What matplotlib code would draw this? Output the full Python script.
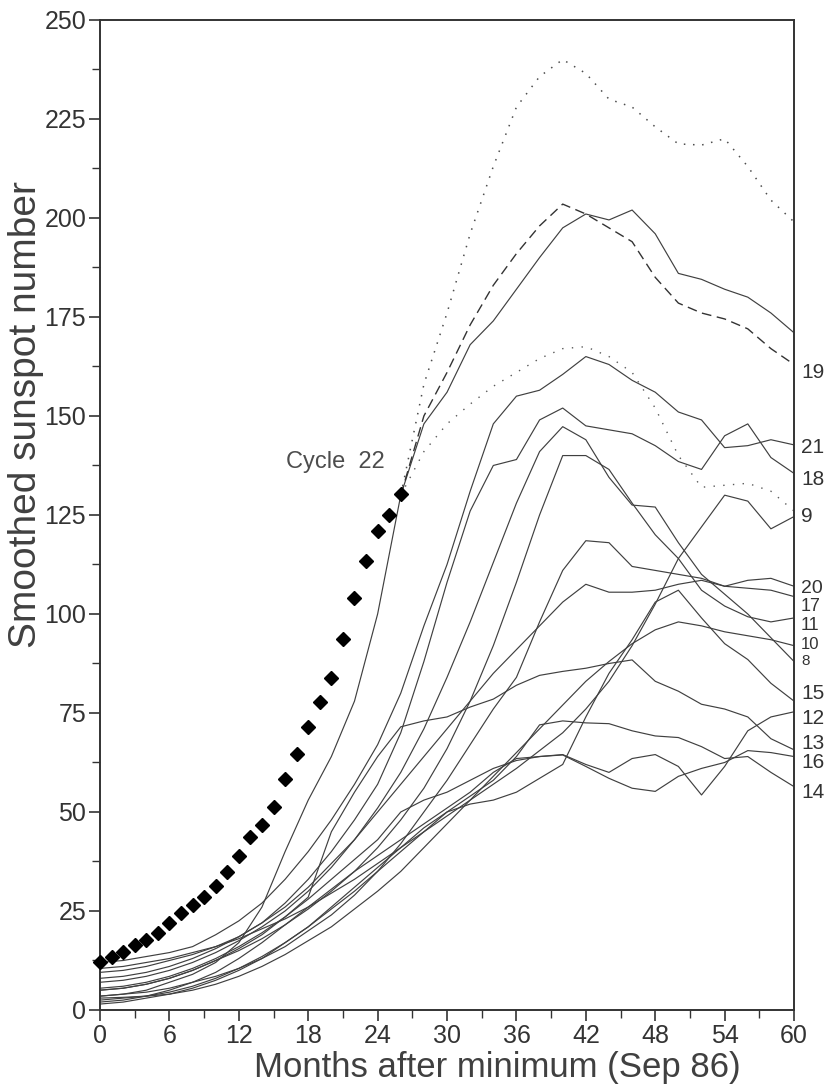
import numpy as np
import matplotlib.pyplot as plt

plt.rcParams['font.family'] = ['Liberation Sans', 'DejaVu Sans']

# months after minimum, 2-month sampling for the historical cycles
months = list(range(0, 61, 2))

cycles = {
    8:  [7, 7.5, 8.5, 10, 12, 14.5, 17.5, 21, 25, 30, 36, 43, 51, 60, 71, 84,
         98, 113, 128, 141, 147.3, 144, 134.5, 127.5, 127, 118, 110, 105, 100, 94, 88],
    9:  [10.5, 11, 12, 13, 14.5, 16, 18, 20.5, 23, 26, 29.5, 33, 37, 41, 45, 49,
         53, 57, 61, 65.5, 70, 76, 83, 92, 102.5, 114, 122, 130, 128.5, 121.5, 124.6],
    10: [3, 3.2, 3.5, 4, 5, 6.5, 8.5, 11, 14, 17.5, 21, 25.5, 30, 35, 41, 47,
         53, 59, 65, 71, 77, 83, 88, 92.5, 96, 98, 97, 95.5, 94.5, 93.5, 92],
    11: [5, 5.5, 6.5, 8, 10, 12.5, 15, 18, 21.5, 25.5, 30, 35, 41, 48, 56, 66,
         78, 92, 108, 125, 140, 140, 136.5, 128, 120, 114, 106, 102, 99.3, 98, 99],
    12: [2, 2.5, 3.5, 5, 7, 9.5, 13, 17, 21.5, 26, 30.5, 35, 39, 43, 47, 51,
         55, 60, 63.5, 64, 64.5, 62, 60, 63.5, 64.5, 61.5, 54.3, 61.5, 70.5, 74, 75.3],
    13: [5, 5.5, 6.5, 8, 10, 12.5, 15.5, 19, 23.5, 28.5, 45, 55, 64, 71.5, 73, 74,
         76.5, 78.5, 82, 84.5, 85.5, 86.3, 87.5, 88.4, 83, 80.5, 77.2, 76, 74, 68.5, 65.7],
    14: [2.5, 3, 3.5, 4.5, 6, 8, 10.5, 13.5, 17, 21, 25.5, 30, 35, 40, 45, 50,
         54, 58, 64, 72, 73, 72.5, 72.3, 70.5, 69.2, 68.8, 66.5, 63.5, 64, 60, 56.4],
    15: [1.5, 2, 3, 4, 5.5, 7.5, 10, 13, 17, 21, 26, 31, 36, 41, 46, 50,
         52, 53, 55, 58.5, 62, 74, 85, 93.5, 103, 106, 99, 92.5, 88.5, 82.5, 78],
    16: [5.5, 6, 7, 8.5, 10.5, 13, 16, 19.5, 23.5, 28, 33, 38, 43, 50, 53, 55,
         58, 61, 63, 64, 64.4, 61.5, 58.5, 56, 55.2, 59, 61, 62.5, 65.5, 65, 64],
    17: [3.5, 4, 4.5, 5.5, 7, 8.5, 10.5, 13, 16, 20, 24, 29, 35, 42, 50, 58,
         67, 76, 84, 98, 111, 118.5, 118, 112, 111, 110, 109, 107, 106.5, 106, 104.4],
    18: [8, 8.5, 9.5, 11, 13, 15.5, 18.5, 22, 27, 33, 40, 48, 57, 70, 88, 108,
         126, 137.5, 139, 149, 152, 147.5, 146.5, 145.5, 142.5, 138.5, 136.5, 145, 148, 139.5, 135.5],
    19: [3.5, 4, 5, 7, 9, 12, 17, 26, 40, 53, 64, 78, 100, 130, 148, 156,
         168, 174, 182, 190, 197.5, 201, 199.5, 202, 196, 186, 184.5, 182, 180, 176, 171],
    20: [9.5, 10, 11, 12.5, 14, 16, 18.5, 22, 26, 31, 37, 43, 50, 57, 64, 71,
         78, 85, 91, 97, 103, 107.5, 105.5, 105.5, 106, 107.5, 108.5, 107, 108.5, 109, 107],
    21: [12, 12.5, 13.5, 14.5, 16, 19, 22.5, 27, 33, 40, 48, 57, 67, 80, 97, 112.5,
         131, 148, 155, 156.5, 160.5, 165, 163, 159, 156, 151, 149, 142, 142.5, 144, 142.7],
}

# cycle 22 observed (monthly, from Sep 86)
c22_months = list(range(0, 27))
c22_values = [12, 13.5, 14.7, 16.4, 17.7, 19.5, 22.0, 24.4, 26.5, 28.5, 31.3, 34.9,
              38.9, 43.6, 46.7, 51.3, 58.3, 64.6, 71.4, 77.7, 83.8, 93.6, 104.0,
              113.5, 121.0, 125.0, 130.2]

# projections continuing from the last cycle 22 point
proj_months = list(range(26, 61, 2))
proj_high = [130, 158, 176, 196, 213, 228, 235.7, 240, 236.5, 230, 228, 223,
             218.7, 218.4, 220, 213, 204.5, 199]
proj_mid = [130, 150, 161, 173, 183, 191, 198, 203.5, 201, 197.5, 194, 185,
            178.5, 176, 174.5, 172, 167, 163]
proj_low = [130, 141, 148, 153, 157.5, 161, 164.5, 167, 167.5, 165, 161, 152,
            140, 132, 132.5, 133, 131, 126]

# end labels on the right (value positions, font sizes)
label_names = ['19', '21', '18', '9', '20', '17', '11', '10', '8',
               '15', '12', '13', '16', '14']
label_y = [161, 142, 134, 124.5, 106.5, 101.8, 97, 92.4, 88.0,
           79.8, 73.7, 67.4, 62.4, 55]
label_size = [15, 15, 15, 15, 14, 13, 13, 12, 11,
              15, 15, 15, 15, 15]

fig = plt.figure(figsize=(8.28, 10.9), dpi=100)
ax = fig.add_axes([0.1208, 0.0734, 0.8382, 0.9083])

for cyc, vals in cycles.items():
    ax.plot(months, vals, color='0.25', lw=0.85)

ax.plot(proj_months, proj_high, color='0.3', lw=1.1, ls=(0, (1, 5)))
ax.plot(proj_months, proj_mid, color='0.2', lw=1.0, ls=(0, (7, 4)))
ax.plot(proj_months, proj_low, color='0.35', lw=1.0, ls=(0, (1, 6)))

ax.plot(c22_months, c22_values, ls='none', marker='D', ms=7.5,
        color='black', clip_on=False, zorder=5)

ax.text(24.6, 138.5, 'Cycle  22', fontsize=17, ha='right', va='center',
        color='0.3')

for name, y, fs in zip(label_names, label_y, label_size):
    ax.text(60.6, y, name, fontsize=fs, ha='left', va='center',
            color='0.2', clip_on=False)

ax.set_xlim(0, 60)
ax.set_ylim(0, 250)
ax.set_xticks(range(0, 61, 6))
ax.set_xticks(range(0, 61, 3), minor=True)
ax.set_yticks(range(0, 251, 25))
ax.set_yticks(np.arange(0, 251, 12.5), minor=True)
ax.tick_params(which='major', direction='out', length=8, width=1.2,
               labelsize=18, pad=2, colors='0.2')
ax.tick_params(which='minor', direction='out', length=6, width=1.0,
               colors='0.2')
for sp in ax.spines.values():
    sp.set_linewidth(1.4)
    sp.set_color('0.2')

fig.text(497 / 828, 1 - 1068 / 1090, 'Months after minimum (Sep 86)',
         fontsize=25, ha='center', va='center', color='0.25')
fig.text(26 / 828, 1 - 415 / 1090, 'Smoothed sunspot number',
         fontsize=28, ha='center', va='center', rotation=90, color='0.25')

fig.savefig('out.png', dpi=100)
